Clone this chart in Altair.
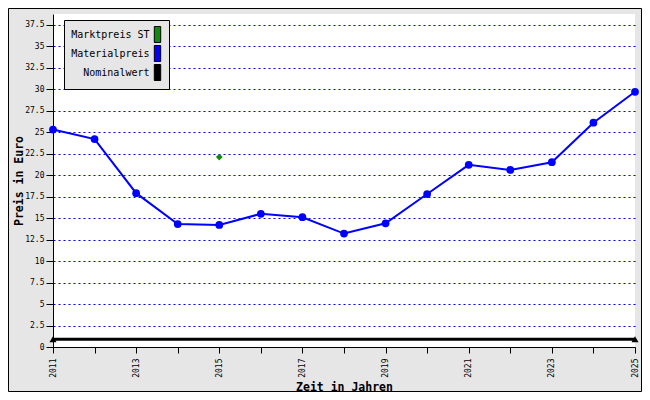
import altair as alt
import pandas as pd

# ---- data ----
years = list(range(2011, 2026))
materialpreis = [25.3, 24.2, 17.9, 14.3, 14.2, 15.5, 15.1, 13.2, 14.4, 17.8, 21.2, 20.6, 21.5, 26.1, 29.7]
marktpreis_years = [2015]
marktpreis = [22.1]
nominal_years = [2011, 2025]
nominalwert = [0.9, 0.9]

series_names = ["Marktpreis ST", "Materialpreis", "Nominalwert"]
series_colors = ["#0f8a0f", "#0000ff", "#000000"]
y_ticks = [0, 2.5, 5, 7.5, 10, 12.5, 15, 17.5, 20, 22.5, 25, 27.5, 30, 32.5, 35, 37.5]

rows = []
for yr, v in zip(marktpreis_years, marktpreis):
    rows.append({"year": yr, "value": v, "series": "Marktpreis ST"})
for yr, v in zip(years, materialpreis):
    rows.append({"year": yr, "value": v, "series": "Materialpreis"})
for yr, v in zip(nominal_years, nominalwert):
    rows.append({"year": yr, "value": v, "series": "Nominalwert"})
df = pd.DataFrame(rows)

FONT = "DejaVu Sans Mono"

x_enc = alt.X(
    "year:Q",
    scale=alt.Scale(domain=[2011, 2025], nice=False, zero=False),
    axis=alt.Axis(
        values=years, format="d",
        labelExpr="datum.value % 2 == 1 ? datum.label : ''",
        labelAngle=270, labelAlign="right", labelBaseline="middle",
        labelFont=FONT, labelFontSize=8, labelColor="black", labelPadding=5,
        labelFlush=False, labelOverlap=False,
        tickSize=6, tickColor="black", domainColor="black", grid=False,
        title="Zeit in Jahren", titleFont=FONT, titleFontSize=11.5,
        titleFontWeight="bold", titleColor="black", titleY=43,
        titleBaseline="alphabetic",
    ),
)
y_enc = alt.Y(
    "value:Q",
    scale=alt.Scale(domain=[0, 38.75], nice=False, zero=True),
    axis=alt.Axis(
        values=y_ticks, format=".1~f",
        labelFont=FONT, labelFontSize=8, labelColor="black", labelPadding=2,
        labelFlush=False, labelOverlap=False,
        tickSize=7, tickColor="black", domainColor="black",
        grid=True, gridColor="#0000ff", gridDash=[2, 3], gridWidth=1,
        title="Preis in Euro", titleFont=FONT, titleFontSize=11.5,
        titleFontWeight="bold", titleColor="black",
        titleX=-31, titleY=166.5, titleAngle=270, titleAlign="center",
        titleBaseline="alphabetic",
    ),
)

legend = alt.Legend(
    title=None, orient="none", legendX=11, legendY=6,
    fillColor="#e6e6e6", strokeColor="black", padding=6, cornerRadius=0,
    symbolType="M-0.4,-1H0.4V1H-0.4Z", symbolSize=256,
    symbolStrokeColor="black", symbolStrokeWidth=1, symbolOpacity=1,
    symbolOffset=79, labelAlign="right", labelOffset={"expr": "-16.5"},
    labelFont=FONT, labelFontSize=10, labelColor="black",
    rowPadding={"expr": "-3"},
)
fill_enc = alt.Fill(
    "series:N",
    scale=alt.Scale(domain=series_names, range=series_colors),
    legend=legend,
)

base = alt.Chart(df)

frame = alt.Chart(alt.Data(values=[{"a": 1}])).mark_rect(
    filled=False, color="black", strokeWidth=1
).encode(
    x=alt.value(-44.5), x2=alt.value(588.5), y=alt.value(-5.5), y2=alt.value(377.5)
)

line_nom = base.transform_filter(alt.datum.series == "Nominalwert").mark_line(
    color="black", strokeWidth=3
).encode(x=x_enc, y=y_enc)

line_mat = base.transform_filter(alt.datum.series == "Materialpreis").mark_line(
    color="#0000ff", strokeWidth=2
).encode(x=x_enc, y=y_enc)

pts_mat = base.transform_filter(alt.datum.series == "Materialpreis").mark_point(
    shape="circle", size=60, filled=True, opacity=1, strokeWidth=0
).encode(x=x_enc, y=y_enc, fill=fill_enc)

pts_mkt = base.transform_filter(alt.datum.series == "Marktpreis ST").mark_point(
    shape="diamond", size=45, filled=True, opacity=1, strokeWidth=0
).encode(x=x_enc, y=y_enc, fill=fill_enc)

pts_nom = base.transform_filter(alt.datum.series == "Nominalwert").mark_point(
    shape="triangle-up", size=50, filled=True, opacity=1, strokeWidth=0
).encode(x=x_enc, y=y_enc, fill=fill_enc)

chart = alt.layer(frame, line_nom, line_mat, pts_mkt, pts_mat, pts_nom).properties(
    width=582, height=333,
    autosize=alt.AutoSizeParams(type="none"),
    padding={"left": 45, "top": 6, "right": 7, "bottom": 45},
    background="#e6e6e6",
).configure_view(fill="white", strokeWidth=0)

chart.save("out.html", embed_options={"renderer": "svg", "actions": False})
